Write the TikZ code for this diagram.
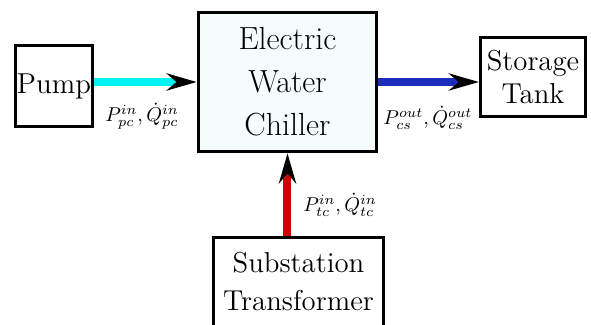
\documentclass[tikz,border=0pt]{standalone}
\usepackage{amsmath}
\usepackage{tikz}
\usetikzlibrary{arrows.meta,positioning}
\definecolor{coolfill}{HTML}{F6FBFE}
\definecolor{pumpflow}{HTML}{00F2F2}
\definecolor{tankflow}{HTML}{1C2DBB}
\definecolor{gridflow}{HTML}{D00000}

\begin{document}
\begin{tikzpicture}[x=0.5pt,y=-0.5pt,
  unit/.style={draw,line width=1.5pt,align=center,inner sep=0pt,
    font=\fontsize{14.4}{16.5}\selectfont},
  flow/.style={line width=4pt,-{Stealth[black,length=15pt,width=8.5pt]}},
  lbl/.style={font=\fontsize{10}{12}\selectfont}]
  \clip (0,0) rectangle (591,325);
  \node[unit,minimum width=38.5pt,minimum height=40.5pt] (pump) at (54,86) {Pump};
  \node[unit,fill=coolfill,line width=1.75pt,minimum width=89pt,minimum height=69.5pt,
    font=\fontsize{16}{21.5}\selectfont] (chiller) at (287.5,82) {Electric\\Water\\Chiller};
  \node[unit,minimum width=52.5pt,minimum height=39.5pt] (tank) at (533,77) {Storage\\Tank};
  \node[unit,anchor=north,minimum width=85pt,inner ysep=7pt,text depth=22pt,
    font=\fontsize{14.4}{19}\selectfont] (substation) at (298.5,236.5) {Substation\\Transformer};
  \draw[flow,pumpflow] (pump.east |- chiller.west) -- (chiller.west);
  \draw[flow,tankflow] (chiller.east) -- (tank.west |- chiller.east);
  \draw[flow,gridflow] (substation.north -| chiller.south) -- (chiller.south);
  \node[lbl] (pumplbl) at (142,116) {$P_{pc}^{in},\dot{Q}_{pc}^{in}$};
  \node[lbl] (tanklbl) at (428,118) {$P_{cs}^{out},\dot{Q}_{cs}^{out}$};
  \node[lbl] (gridlbl) at (340,205) {$P_{tc}^{in},\dot{Q}_{tc}^{in}$};
\end{tikzpicture}
\end{document}
